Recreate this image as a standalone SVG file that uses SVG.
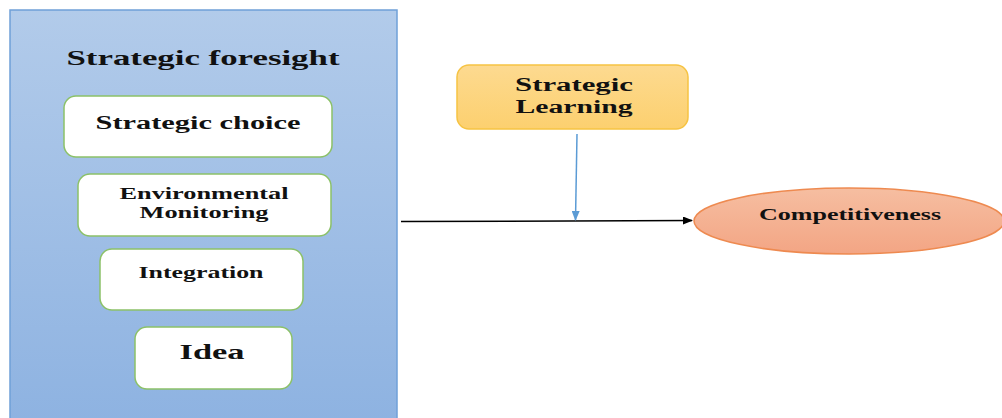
<svg xmlns="http://www.w3.org/2000/svg" width="1002" height="418" viewBox="0 0 1002 418">
<defs>
<linearGradient id="gBlue" x1="0" y1="0" x2="0" y2="1"><stop offset="0" stop-color="#b2cbea"/><stop offset="1" stop-color="#8db2e1"/></linearGradient>
<linearGradient id="gGold" x1="0" y1="0" x2="0" y2="1"><stop offset="0" stop-color="#fdda90"/><stop offset="1" stop-color="#fcd06f"/></linearGradient>
<linearGradient id="gOrange" x1="0" y1="0" x2="0" y2="1"><stop offset="0" stop-color="#f6bea1"/><stop offset="1" stop-color="#f3a584"/></linearGradient>
<marker id="arrBlack" markerWidth="10" markerHeight="8" refX="9" refY="4" orient="auto" markerUnits="userSpaceOnUse"><path d="M0,0 L10,4 L0,8 z" fill="#000"/></marker>
<marker id="arrBlue" markerWidth="10" markerHeight="8" refX="9" refY="4" orient="auto" markerUnits="userSpaceOnUse"><path d="M0,0 L10,4 L0,8 z" fill="#5b9bd5"/></marker>
</defs>
<style>
.t{font-family:"Liberation Serif","Times New Roman",serif;font-weight:bold;fill:#111;text-anchor:middle}
.box{fill:#fff;stroke:#8cc168;stroke-width:1.5}
</style>
<rect width="1002" height="418" fill="#fff"/>
<g id="foresight">
<rect x="10" y="10" width="387" height="420" fill="url(#gBlue)" stroke="#6fa0d8" stroke-width="1.5"/>
<text class="t" x="203" y="65" font-size="22" textLength="273" lengthAdjust="spacingAndGlyphs">Strategic foresight</text>
</g>
<g id="choice">
<rect class="box" x="64" y="96" width="268" height="61" rx="12"/>
<text class="t" x="198" y="129" font-size="18" textLength="205" lengthAdjust="spacingAndGlyphs">Strategic choice</text>
</g>
<g id="monitoring">
<rect class="box" x="78" y="174" width="253" height="62" rx="12"/>
<text class="t" x="204" y="199" font-size="16" textLength="169" lengthAdjust="spacingAndGlyphs">Environmental</text>
<text class="t" x="204" y="218" font-size="16" textLength="129" lengthAdjust="spacingAndGlyphs">Monitoring</text>
</g>
<g id="integration">
<rect class="box" x="100" y="249" width="203" height="61" rx="12"/>
<text class="t" x="201" y="278" font-size="16" textLength="125" lengthAdjust="spacingAndGlyphs">Integration</text>
</g>
<g id="idea">
<rect class="box" x="135" y="327" width="157" height="62" rx="12"/>
<text class="t" x="212" y="359" font-size="22" textLength="65" lengthAdjust="spacingAndGlyphs">Idea</text>
</g>
<g id="learning">
<rect x="457" y="65" width="231" height="64" rx="12" fill="url(#gGold)" stroke="#f6c343" stroke-width="1.5"/>
<text class="t" x="574" y="91" font-size="18" textLength="118" lengthAdjust="spacingAndGlyphs">Strategic</text>
<text class="t" x="574" y="113" font-size="18" textLength="117" lengthAdjust="spacingAndGlyphs">Learning</text>
</g>
<g id="competitiveness">
<ellipse cx="849" cy="221" rx="155" ry="33" fill="url(#gOrange)" stroke="#ee8a50" stroke-width="1.5"/>
<text class="t" x="850" y="220" font-size="16" textLength="182" lengthAdjust="spacingAndGlyphs">Competitiveness</text>
</g>
<g id="connectors">
<line x1="401" y1="221.5" x2="692" y2="220.5" stroke="#000" stroke-width="1.5" marker-end="url(#arrBlack)"/>
<line x1="577" y1="134" x2="575.5" y2="220" stroke="#5b9bd5" stroke-width="1.5" marker-end="url(#arrBlue)"/>
</g>
</svg>
